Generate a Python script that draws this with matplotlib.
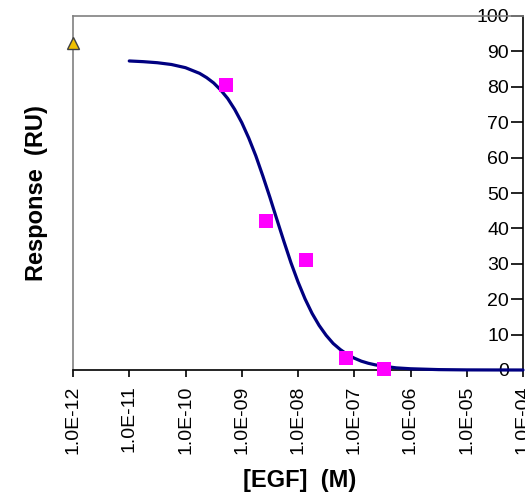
import matplotlib
matplotlib.use("Agg")
import matplotlib.pyplot as plt
import numpy as np

# Data
tick_exponents = [-12, -11, -10, -9, -8, -7, -6, -5, -4]
tick_labels = ["1.0E-12", "1.0E-11", "1.0E-10", "1.0E-09", "1.0E-08",
               "1.0E-07", "1.0E-06", "1.0E-05", "1.0E-04"]
y_ticks = [0, 10, 20, 30, 40, 50, 60, 70, 80, 90, 100]

# Measured points (magenta squares)
egf_conc = [5.2e-10, 2.7e-9, 1.4e-8, 7.0e-8, 3.4e-7]
response = [80.5, 42.0, 31.0, 3.4, 0.3]

# Reference (triangle) point
ref_conc = [1.0e-12]
ref_resp = [92.3]

# Fitted curve (log10 concentration, response)
curve_logx = [-11.0, -10.75, -10.5, -10.25, -10.0, -9.75, -9.625, -9.5,
              -9.375, -9.25, -9.125, -9.0, -8.875, -8.75, -8.625, -8.5,
              -8.375, -8.25, -8.125, -8.0, -7.875, -7.75, -7.625, -7.5,
              -7.375, -7.25, -7.125, -7.0, -6.875, -6.75, -6.625, -6.5,
              -6.25, -6.0, -5.5, -5.0, -4.5, -4.0]
curve_resp = [87.3, 87.1, 86.8, 86.3, 85.4, 83.8, 82.6, 81.1,
              79.1, 76.7, 73.6, 69.9, 65.5, 60.5, 54.8, 48.8,
              42.5, 36.3, 30.3, 24.9, 20.1, 16.0, 12.6, 9.8,
              7.5, 5.8, 4.4, 3.35, 2.5, 1.9, 1.45, 1.1,
              0.6, 0.35, 0.11, 0.03, 0.01, 0.0]

W, H, DPI = 525, 496, 100
fig = plt.figure(figsize=(W / DPI, H / DPI), dpi=DPI)
ax = fig.add_axes([73 / W, 1 - 370 / H, (523 - 73) / W, (370 - 16) / H])

font = "Liberation Sans"

ax.plot(10.0 ** np.array(curve_logx), curve_resp, color="#000080", lw=2.3,
        zorder=4, clip_on=False, solid_capstyle="round",
        solid_joinstyle="round")
ax.plot(egf_conc, response, linestyle="none", marker="s", markersize=9.5,
        color="#ff00ff", markeredgewidth=0, zorder=5, clip_on=False)
ax.plot(ref_conc, ref_resp, linestyle="none", marker="^", markersize=8,
        markerfacecolor="#f0c000", markeredgecolor="#404040",
        markeredgewidth=1.0, zorder=5, clip_on=False)

ax.set_xscale("log")
ax.set_xlim(1e-12, 1e-4)
ax.set_ylim(0, 100)

ax.set_xticks([10.0 ** e for e in tick_exponents])
ax.set_xticklabels(tick_labels, rotation=90, fontsize=14, fontfamily=font)
ax.xaxis.set_minor_locator(matplotlib.ticker.NullLocator())
ax.tick_params(axis="x", direction="out", length=5, width=1.2,
               color="black", pad=6)

ax.yaxis.tick_right()
ax.set_yticks(y_ticks)
ax.set_yticklabels([str(v) for v in y_ticks], fontsize=14, fontfamily=font)
ax.tick_params(axis="y", direction="in", length=9, width=1.2,
               color="black", pad=-10, right=True, left=False,
               labelright=True, labelleft=False)
for t in ax.get_yticklabels():
    t.set_horizontalalignment("right")

for side in ("left", "top"):
    ax.spines[side].set_color("#808080")
    ax.spines[side].set_linewidth(1.2)
for side in ("bottom", "right"):
    ax.spines[side].set_color("black")
    ax.spines[side].set_linewidth(1.2)

fig.text(300 / W, 1 - 480 / H, "[EGF]  (M)", ha="center", va="center",
         fontsize=17, fontweight="bold", fontfamily=font)
fig.text(37 / W, 1 - 193 / H, "Response  (RU)", ha="center", va="center",
         rotation=90, fontsize=17, fontweight="bold", fontfamily=font)

fig.savefig("out.png", dpi=DPI)
